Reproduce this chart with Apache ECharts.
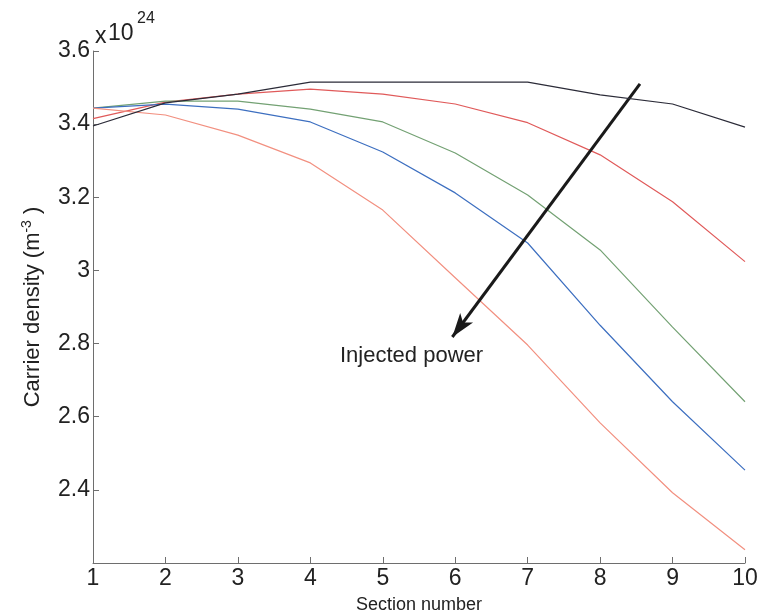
<!DOCTYPE html>
<html>
<head>
<meta charset="utf-8">
<script src="https://cdn.jsdelivr.net/npm/echarts@6/dist/echarts.min.js"></script>
<style>
  html, body { margin: 0; padding: 0; background: #fff; }
  #main { width: 763px; height: 614px; }
</style>
</head>
<body>
<div id="main"></div>
<script>
// section numbers
var sections = [1, 2, 3, 4, 5, 6, 7, 8, 9, 10];
// carrier density in units of 1e24 m^-3, one array per injected power level
var powerLevel1 = [3.395, 3.458, 3.482, 3.515, 3.515, 3.515, 3.515, 3.48, 3.455, 3.392];
var powerLevel2 = [3.415, 3.46, 3.482, 3.496, 3.482, 3.455, 3.404, 3.316, 3.188, 3.024];
var powerLevel3 = [3.444, 3.463, 3.463, 3.441, 3.406, 3.321, 3.206, 3.056, 2.845, 2.641];
var powerLevel4 = [3.444, 3.455, 3.441, 3.406, 3.324, 3.212, 3.075, 2.85, 2.641, 2.454];
var powerLevel5 = [3.444, 3.425, 3.37, 3.294, 3.165, 2.98, 2.796, 2.583, 2.392, 2.236];
var yTicks = [2.2, 2.4, 2.6, 2.8, 3, 3.2, 3.4, 3.6];
// annotation arrow, data coords
var arrowFrom = [8.55, 3.51];
var arrowTo = [5.96, 2.818];

function pairs(ys) {
  return sections.map(function (x, i) { return [x, ys[i]]; });
}

var myChart = echarts.init(document.getElementById('main'));
var font = 'Liberation Sans, Arial, sans-serif';
var axisColor = '#6e6e6e';

var option = {
  animation: false,
  textStyle: { fontFamily: font },
  grid: { left: 93, right: 18, top: 51, bottom: 51, outerBoundsMode: 'none', containLabel: false },
  xAxis: {
    type: 'value',
    min: 1,
    max: 10,
    interval: 1,
    name: 'Section number',
    nameLocation: 'middle',
    nameGap: 33,
    nameTextStyle: { fontSize: 18, color: '#222', fontFamily: font },
    axisLine: { lineStyle: { color: axisColor } },
    axisTick: { inside: true, length: 6, lineStyle: { color: axisColor } },
    axisLabel: { fontSize: 23, color: '#222', margin: 4 },
    splitLine: { show: false }
  },
  yAxis: {
    type: 'value',
    min: yTicks[0],
    max: yTicks[yTicks.length - 1],
    interval: 0.2,
    name: 'Carrier density (m{sup|-3} )',
    nameLocation: 'middle',
    nameGap: 47,
    nameTextStyle: {
      fontSize: 22, color: '#222', fontFamily: font,
      rich: { sup: { fontSize: 14, color: '#222', fontFamily: font, padding: [0, 0, 12, 0] } }
    },
    axisLine: { show: true, lineStyle: { color: axisColor } },
    axisTick: { show: true, inside: true, length: 6, lineStyle: { color: axisColor } },
    axisLabel: {
      fontSize: 23, color: '#222', margin: 3, showMinLabel: false,
      formatter: function (v) { return String(+v.toFixed(1)); }
    },
    splitLine: { show: false }
  },
  series: [
    {
      type: 'line', data: pairs(powerLevel1), symbol: 'none',
      lineStyle: { color: '#2b2b38', width: 1.2 }, z: 5,
      markLine: {
        silent: true,
        symbol: ['none', 'arrow'],
        symbolSize: [12, 24],
        label: { show: false },
        lineStyle: { color: '#1a1a1a', width: 3, type: 'solid' },
        data: [[{ coord: arrowFrom }, { coord: arrowTo }]]
      }
    },
    { type: 'line', data: pairs(powerLevel2), symbol: 'none', lineStyle: { color: '#e05a5a', width: 1.2 } },
    { type: 'line', data: pairs(powerLevel3), symbol: 'none', lineStyle: { color: '#73a173', width: 1.2 } },
    { type: 'line', data: pairs(powerLevel4), symbol: 'none', lineStyle: { color: '#3d6fc0', width: 1.2 } },
    { type: 'line', data: pairs(powerLevel5), symbol: 'none', lineStyle: { color: '#f29080', width: 1.2 } }
  ],
  graphic: [
    { type: 'text', style: { x: 95, y: 37, text: 'x', font: '23px ' + font, fill: '#222', verticalAlign: 'middle' } },
    { type: 'text', style: { x: 108, y: 34, text: '10', font: '23px ' + font, fill: '#222', verticalAlign: 'middle' } },
    { type: 'text', style: { x: 137, y: 19, text: '24', font: '16px ' + font, fill: '#222', verticalAlign: 'middle' } },
    {
      type: 'text',
      left: 340,
      top: 345,
      style: { text: 'Injected power', font: '22px ' + font, fill: '#222' }
    }
  ]
};

myChart.setOption(option);
</script>
</body>
</html>
